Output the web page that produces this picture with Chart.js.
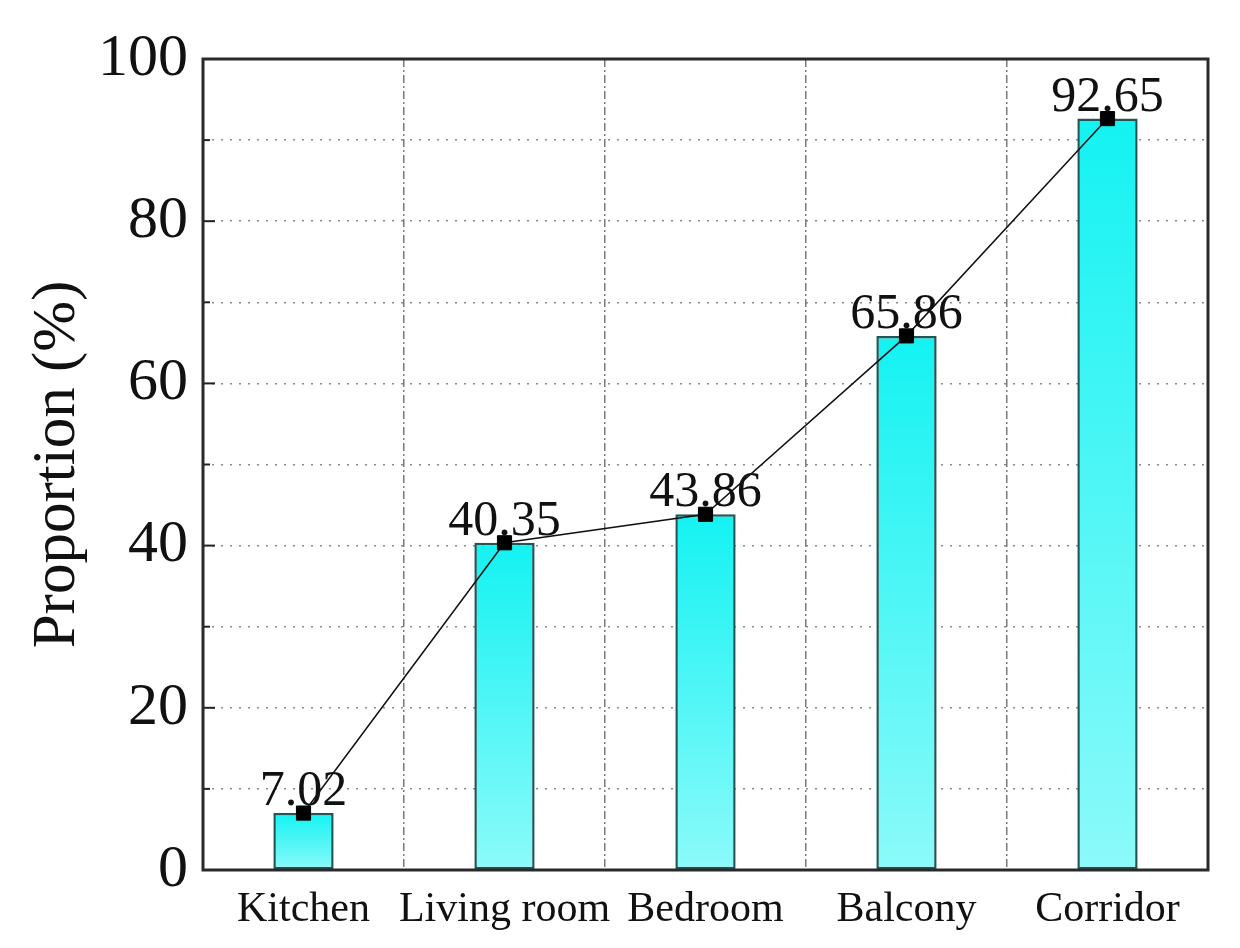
<!DOCTYPE html>
<html>
<head>
<meta charset="utf-8">
<script src="https://cdn.jsdelivr.net/npm/chart.js@4.4.1/dist/chart.umd.min.js"></script>
<style>
  html, body { margin: 0; padding: 0; background: #ffffff; }
  #wrap { width: 1240px; height: 948px; }
</style>
</head>
<body>
<div id="wrap"><canvas id="c" width="1240" height="948"></canvas></div>
<script>
const categories = ['Kitchen', 'Living room', 'Bedroom', 'Balcony', 'Corridor'];
const proportions = [7.02, 40.35, 43.86, 65.86, 92.65];
const yTickValues = [0, 20, 40, 60, 80, 100];
const yAxisTitle = 'Proportion (%)';

const SERIF = '"Liberation Serif", "Times New Roman", serif';

const framePlugin = {
  id: 'frame',
  afterDraw(chart) {
    const { ctx, chartArea: a, scales } = chart;
    const y = scales.y;
    ctx.save();
    ctx.strokeStyle = '#222';
    ctx.lineWidth = 2;
    y.ticks.forEach(t => {
      const py = y.getPixelForValue(t.value);
      const major = yTickValues.includes(t.value);
      const len = major ? 12 : 7;
      ctx.beginPath();
      ctx.moveTo(a.left, py);
      ctx.lineTo(a.left + len, py);
      ctx.stroke();
    });
    ctx.lineWidth = 3;
    ctx.strokeStyle = '#2a2a2a';
    ctx.strokeRect(a.left, a.top, a.right - a.left, a.bottom - a.top);
    ctx.restore();
  }
};

const labelPlugin = {
  id: 'valueLabels',
  afterDatasetsDraw(chart) {
    const { ctx } = chart;
    const meta = chart.getDatasetMeta(1);
    ctx.save();
    ctx.font = '50px ' + SERIF;
    ctx.fillStyle = '#111';
    ctx.textAlign = 'center';
    ctx.textBaseline = 'alphabetic';
    meta.data.forEach((pt, i) => {
      ctx.fillText(proportions[i].toFixed(2), pt.x, pt.y - 8);
    });
    ctx.restore();
  }
};

function barGradient(context) {
  const chart = context.chart;
  const { ctx, chartArea, scales } = chart;
  if (!chartArea || !scales.y || context.type !== 'data') return 'rgb(80,245,245)';
  const v = proportions[context.dataIndex];
  const top = scales.y.getPixelForValue(v);
  const bottom = scales.y.getPixelForValue(0);
  const g = ctx.createLinearGradient(0, top, 0, bottom);
  g.addColorStop(0, 'rgb(20,242,242)');
  g.addColorStop(1, 'rgb(140,250,250)');
  return g;
}

new Chart(document.getElementById('c'), {
  data: {
    labels: categories,
    datasets: [
      {
        type: 'bar',
        data: proportions,
        backgroundColor: barGradient,
        borderColor: 'rgb(35,85,85)',
        borderWidth: 2.5,
        borderSkipped: false,
        categoryPercentage: 1.0,
        barPercentage: 0.3,
        order: 2
      },
      {
        type: 'line',
        data: proportions,
        borderColor: '#111',
        borderWidth: 1.5,
        pointStyle: 'rect',
        pointRadius: 10,
        pointBackgroundColor: '#000',
        pointBorderColor: '#000',
        pointBorderWidth: 1,
        tension: 0,
        order: 1
      }
    ]
  },
  options: {
    responsive: false,
    animation: false,
    events: [],
    layout: { padding: { top: 59, right: 32, left: 0, bottom: 0 } },
    plugins: {
      legend: { display: false },
      tooltip: { enabled: false },
      title: { display: false }
    },
    scales: {
      x: {
        type: 'category',
        offset: true,
        grid: {
          offset: true,
          color: '#7a7a7a',
          lineWidth: 1.5,
          drawTicks: false
        },
        border: { display: false, dash: [8, 3, 2, 3] },
        ticks: {
          color: '#111',
          font: { family: SERIF, size: 42 },
          padding: 15,
          maxRotation: 0,
          autoSkip: false
        },
        afterFit(scale) { scale.height = 78; }
      },
      y: {
        min: 0,
        max: 100,
        grid: {
          color: '#8a8a8a',
          lineWidth: 1.5,
          drawTicks: false
        },
        border: { display: false, dash: [2, 7] },
        ticks: {
          stepSize: 10,
          color: '#111',
          font: { family: SERIF, size: 60 },
          padding: 15,
          callback: (v) => (yTickValues.includes(v) ? String(v) : '')
        },
        title: {
          display: true,
          text: yAxisTitle,
          color: '#111',
          font: { family: SERIF, size: 61, weight: 'normal' },
          padding: { top: 21, bottom: 0 }
        },
        afterFit(scale) { scale.width = 203; }
      }
    }
  },
  plugins: [framePlugin, labelPlugin]
});
</script>
</body>
</html>
